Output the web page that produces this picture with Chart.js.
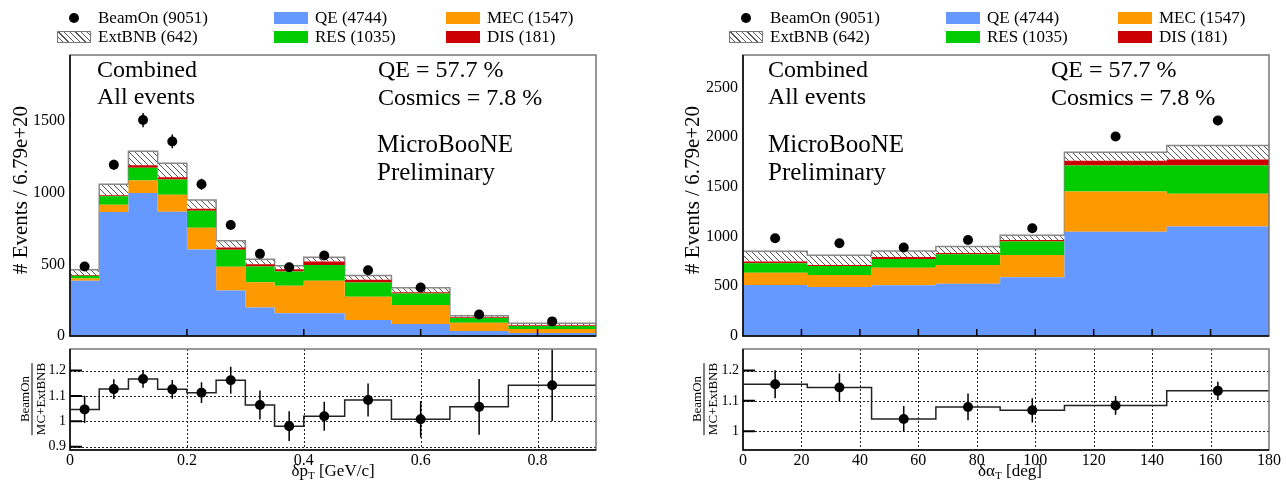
<!DOCTYPE html>
<html>
<head>
<meta charset="utf-8">
<script src="https://cdn.jsdelivr.net/npm/chart.js@4.4.1/dist/chart.umd.min.js"></script>
<style>
  html, body { margin: 0; padding: 0; background: #fff; }
  body { position: relative; width: 1286px; height: 485px; overflow: hidden;
         font-family: "Liberation Serif", "Times New Roman", serif; color: #000; }
  canvas { position: absolute; }
  .txt { position: absolute; white-space: nowrap; line-height: 1; }
  .leg { position: absolute; white-space: nowrap; font-size: 17px; line-height: 20px; }
  .dot { position: absolute; width: 10px; height: 10px; border-radius: 50%; background: #000; }
  .box { position: absolute; width: 34px; height: 12px; }
  .hatch { box-sizing: border-box; border: 1px solid #777;
           background: repeating-linear-gradient(45deg, #fff 0 3px, #555 3px 4px); }
  .ytitle { position: absolute; font-size: 21px; white-space: nowrap; line-height: 1;
            transform: translate(-50%, -50%) rotate(-90deg); }
  .frac { position: absolute; font-size: 13px; line-height: 1; text-align: center;
          transform: translate(-50%, -50%) rotate(-90deg); }
  .frac .num { border-bottom: 1px solid #000; padding: 0 1px 1px; }
  .frac .den { padding-top: 1px; }
  .xtitle { position: absolute; font-size: 17px; white-space: nowrap; line-height: 1;
            transform: translateX(-50%); }
  .xtitle sub { font-size: 11px; vertical-align: -3px; }
</style>
</head>
<body>
<canvas id="ptTop" width="616" height="321" style="left:0px;top:35px"></canvas>
<canvas id="ptRatio" width="616" height="150" style="left:0px;top:335px"></canvas>
<canvas id="atTop" width="616" height="321" style="left:673px;top:35px"></canvas>
<canvas id="atRatio" width="616" height="150" style="left:673px;top:335px"></canvas>

<script>
// ---------- data: delta pT ----------
const ptEdges = [0, 0.05, 0.1, 0.15, 0.2, 0.25, 0.3, 0.35, 0.4, 0.47, 0.55, 0.65, 0.75, 0.9];
const ptQE  = [385, 865, 998, 867, 604, 317, 198, 158, 158, 112, 84, 35, 21];
const ptMEC = [16, 51, 86, 119, 151, 166, 177, 192, 227, 161, 133, 58, 28];
const ptRES = [19, 58, 89, 105, 119, 118, 110, 100, 111, 100, 79, 33, 21];
const ptDIS = [5, 7, 18, 16, 14, 17, 16, 16, 24, 19, 9, 5, 5];
const ptExt = [37, 77, 98, 98, 61, 46, 35, 24, 30, 30, 31, 11, 14];
const ptData = [485, 1194, 1506, 1357, 1058, 774, 573, 480, 562, 459, 338, 150, 102];
const ptDataErr = [22, 35, 50, 48, 38, 30, 26, 24, 26, 23, 20, 13, 11];
const ptRatio = [1.047, 1.127, 1.167, 1.126, 1.113, 1.162, 1.064, 0.981, 1.020, 1.084, 1.008, 1.057, 1.142];
const ptRatioErr = [0.054, 0.039, 0.035, 0.037, 0.041, 0.053, 0.057, 0.059, 0.057, 0.065, 0.072, 0.110, 0.141];

// ---------- data: delta alphaT ----------
const atEdges = [0, 22, 44, 66, 88, 110, 145, 180];
const atQE  = [513, 493, 510, 526, 590, 1049, 1100];
const atMEC = [124, 121, 177, 188, 225, 403, 329];
const atRES = [94, 90, 88, 108, 134, 262, 285];
const atDIS = [17, 10, 20, 13, 17, 47, 60];
const atExt = [104, 98, 60, 64, 47, 87, 141];
const atData = [983, 932, 889, 966, 1083, 2005, 2166];
const atDataErr = [31, 31, 30, 31, 33, 45, 47];
const atRatio = [1.155, 1.144, 1.040, 1.080, 1.069, 1.085, 1.133];
const atRatioErr = [0.046, 0.046, 0.043, 0.044, 0.040, 0.031, 0.030];

// ---------- ticks ----------
const ptTopYTicks = [0, 500, 1000, 1500];
const atTopYTicks = [0, 500, 1000, 1500, 2000, 2500];
const ptXTicks = [0, 0.2, 0.4, 0.6, 0.8];
const atXTicks = [0, 20, 40, 60, 80, 100, 120, 140, 160, 180];
const ptRatioYTicks = [0.9, 1, 1.1, 1.2];
const atRatioYTicks = [1, 1.1, 1.2];

const legendLabels = ["BeamOn (9051)", "QE (4744)", "MEC (1547)", "ExtBNB (642)", "RES (1035)", "DIS (181)"];

const colors = { QE: "#6699ff", MEC: "#ff9900", RES: "#00cc00", DIS: "#cc0000" };
const FONT = "'Liberation Serif', 'Times New Roman', serif";

// ---------- helpers ----------
function histPoints(edges, vals) {
  const pts = [];
  vals.forEach((v, i) => { pts.push({ x: edges[i], y: v }, { x: edges[i + 1], y: v }); });
  return pts;
}
function cumulate(layers) {
  let run = layers[0].map(() => 0);
  return layers.map(l => (run = run.map((r, i) => r + l[i])));
}
function centers(edges) {
  return edges.slice(0, -1).map((e, i) => (e + edges[i + 1]) / 2);
}
function hatchPattern() {
  const c = document.createElement("canvas");
  c.width = c.height = 6;
  const g = c.getContext("2d");
  g.fillStyle = "#fff"; g.fillRect(0, 0, 6, 6);
  g.strokeStyle = "#555"; g.lineWidth = 1;
  g.beginPath();
  g.moveTo(0, 0); g.lineTo(6, 6);
  g.moveTo(-1, 5); g.lineTo(1, 7);
  g.moveTo(5, -1); g.lineTo(7, 1);
  g.stroke();
  return g.createPattern(c, "repeat");
}

// frame, inward ticks, dotted grid and error bars
const framePlugin = {
  id: "frame",
  beforeDatasetsDraw(chart, args, o) {
    if (!o.grid) return;
    const { ctx, chartArea: a, scales: { x, y } } = chart;
    ctx.save();
    ctx.strokeStyle = "#222"; ctx.lineWidth = 1; ctx.setLineDash([2, 2]);
    ctx.beginPath();
    x.ticks.forEach(t => {
      const p = Math.round(x.getPixelForValue(t.value)) + 0.5;
      if (p > a.left + 2 && p < a.right - 2) { ctx.moveTo(p, a.top); ctx.lineTo(p, a.bottom); }
    });
    y.ticks.forEach(t => {
      const p = Math.round(y.getPixelForValue(t.value)) + 0.5;
      if (p > a.top + 2 && p < a.bottom - 2) { ctx.moveTo(a.left, p); ctx.lineTo(a.right, p); }
    });
    ctx.stroke();
    ctx.restore();
  },
  afterDatasetsDraw(chart, args, o) {
    const { ctx, chartArea: a, scales: { x, y } } = chart;
    ctx.save();
    ctx.beginPath(); ctx.rect(a.left, a.top, a.right - a.left, a.bottom - a.top); ctx.clip();
    ctx.strokeStyle = "#000"; ctx.lineWidth = 1.5;
    chart.data.datasets.forEach(ds => {
      if (!ds.errorBars) return;
      ctx.beginPath();
      ds.data.forEach((pt, i) => {
        const px = x.getPixelForValue(pt.x);
        ctx.moveTo(px, y.getPixelForValue(pt.y - ds.errorBars[i]));
        ctx.lineTo(px, y.getPixelForValue(pt.y + ds.errorBars[i]));
      });
      ctx.stroke();
    });
    ctx.restore();

    ctx.save();
    ctx.lineWidth = 1.5; ctx.strokeStyle = "#777";
    ctx.strokeRect(a.left, a.top, a.right - a.left, a.bottom - a.top);
    ctx.strokeStyle = "#000";
    ctx.beginPath();
    ctx.moveTo(a.left, a.top); ctx.lineTo(a.left, a.bottom); ctx.lineTo(a.right, a.bottom);
    ctx.stroke();
    if (o.xTick) {
      ctx.beginPath();
      x.ticks.forEach(t => {
        const p = x.getPixelForValue(t.value);
        if (p > a.left + 2 && p < a.right - 2) { ctx.moveTo(p, a.bottom); ctx.lineTo(p, a.bottom - o.xTick); }
      });
      ctx.stroke();
    }
    if (o.yTick) {
      ctx.lineWidth = 2;
      ctx.beginPath();
      y.ticks.forEach(t => {
        const p = y.getPixelForValue(t.value);
        ctx.moveTo(a.left, p); ctx.lineTo(a.left + o.yTick, p);
      });
      ctx.stroke();
    }
    ctx.restore();
  }
};

function fmt(v) { return String(Math.round(v * 10) / 10); }

function makeTop(id, edges, layers, data, err, yMax, yTicks, xTicks) {
  const cum = cumulate(layers);
  const fills = [colors.QE, colors.MEC, colors.RES, colors.DIS, hatchPattern()];
  const datasets = cum.map((c, k) => ({
    data: histPoints(edges, c),
    fill: k === 0 ? "origin" : "-1",
    backgroundColor: fills[k],
    borderColor: k === 4 ? "#888" : "rgba(0,0,0,0)",
    borderWidth: k === 4 ? 1.5 : 0,
    pointRadius: 0,
    tension: 0
  }));
  datasets.push({
    data: centers(edges).map((c, i) => ({ x: c, y: data[i] })),
    showLine: false, fill: false, order: -1,
    pointRadius: 5, pointBackgroundColor: "#000", pointBorderColor: "#000", pointBorderWidth: 0,
    errorBars: err
  });
  return new Chart(document.getElementById(id), {
    type: "line",
    data: { datasets },
    plugins: [framePlugin],
    options: {
      responsive: false, animation: false, events: [], devicePixelRatio: 1,
      layout: { padding: { top: 20, right: 20, left: 0, bottom: 0 } },
      plugins: { legend: { display: false }, tooltip: { enabled: false }, frame: { xTick: 7 } },
      scales: {
        x: {
          type: "linear", min: edges[0], max: edges[edges.length - 1],
          grid: { display: false, drawTicks: false }, border: { display: false },
          ticks: { display: false },
          afterBuildTicks: s => { s.ticks = xTicks.map(v => ({ value: v })); },
          afterFit: s => { s.height = 20; }
        },
        y: {
          min: 0, max: yMax,
          grid: { display: false, drawTicks: false }, border: { display: false },
          ticks: { color: "#000", padding: 5, font: { family: FONT, size: 16 }, callback: v => String(v) },
          afterBuildTicks: s => { s.ticks = yTicks.map(v => ({ value: v })); },
          afterFit: s => { s.width = 70; }
        }
      }
    }
  });
}

function makeRatio(id, edges, ratio, err, yMin, yMax, yTicks, xTicks) {
  return new Chart(document.getElementById(id), {
    type: "line",
    data: {
      datasets: [
        { data: histPoints(edges, ratio), fill: false, borderColor: "#222", borderWidth: 1.5, pointRadius: 0, tension: 0 },
        {
          data: centers(edges).map((c, i) => ({ x: c, y: ratio[i] })),
          showLine: false, fill: false, order: -1,
          pointRadius: 5, pointBackgroundColor: "#000", pointBorderColor: "#000", pointBorderWidth: 0,
          errorBars: err
        }
      ]
    },
    plugins: [framePlugin],
    options: {
      responsive: false, animation: false, events: [], devicePixelRatio: 1,
      layout: { padding: { top: 14, right: 20, left: 0, bottom: 0 } },
      plugins: { legend: { display: false }, tooltip: { enabled: false }, frame: { grid: true, yTick: 12, xTick: 0 } },
      scales: {
        x: {
          type: "linear", min: edges[0], max: edges[edges.length - 1],
          grid: { display: false, drawTicks: false }, border: { display: false },
          ticks: { color: "#000", padding: 1, autoSkip: false, maxRotation: 0, font: { family: FONT, size: 16 }, callback: fmt },
          afterBuildTicks: s => { s.ticks = xTicks.map(v => ({ value: v })); },
          afterFit: s => { s.height = 35; }
        },
        y: {
          min: yMin, max: yMax,
          grid: { display: false, drawTicks: false }, border: { display: false },
          ticks: { color: "#000", padding: 4, font: { family: FONT, size: 14 }, callback: fmt },
          afterBuildTicks: s => { s.ticks = yTicks.map(v => ({ value: v })); },
          afterFit: s => { s.width = 70; }
        }
      }
    }
  });
}

makeTop("ptTop", ptEdges, [ptQE, ptMEC, ptRES, ptDIS, ptExt], ptData, ptDataErr, 1960, ptTopYTicks, ptXTicks);
makeRatio("ptRatio", ptEdges, ptRatio, ptRatioErr, 0.887, 1.285, ptRatioYTicks, ptXTicks);
makeTop("atTop", atEdges, [atQE, atMEC, atRES, atDIS, atExt], atData, atDataErr, 2825, atTopYTicks, atXTicks);
makeRatio("atRatio", atEdges, atRatio, atRatioErr, 0.938, 1.271, atRatioYTicks, atXTicks);

// ---------- text: legend, labels, titles ----------
function add(cls, left, top, html, style) {
  const d = document.createElement("div");
  d.className = cls;
  d.style.left = left + "px";
  d.style.top = top + "px";
  if (style) Object.assign(d.style, style);
  d.innerHTML = html;
  document.body.appendChild(d);
  return d;
}

const symLeft = [57, 274, 446];
const textLeft = [98, 315, 487];
const rowMid = [18, 37];
const symFill = ["dot", colors.QE, colors.MEC, "hatch", colors.RES, colors.DIS];

[0, 672].forEach((dx, panel) => {
  legendLabels.forEach((lab, i) => {
    const col = i % 3, row = Math.floor(i / 3);
    const f = symFill[i];
    if (f === "dot") add("dot", dx + symLeft[col] + 12, rowMid[row] - 5, "");
    else if (f === "hatch") add("box hatch", dx + symLeft[col], rowMid[row] - 6, "");
    else add("box", dx + symLeft[col], rowMid[row] - 6, "", { background: f });
    add("leg", dx + textLeft[col], rowMid[row] - 10, lab);
  });

  const leftX = panel === 0 ? 97 : 768;
  const qeX = panel === 0 ? 378 : 1051;
  const mbX = panel === 0 ? 377 : 768;
  add("txt", leftX, 57, "Combined", { fontSize: "24px" });
  add("txt", leftX, 84, "All events", { fontSize: "24px" });
  add("txt", qeX, 57, "QE = 57.7 %", { fontSize: "24px" });
  add("txt", qeX, 85, "Cosmics = 7.8 %", { fontSize: "24px" });
  add("txt", mbX, 131, "MicroBooNE", { fontSize: "25px" });
  add("txt", mbX, 159, "Preliminary", { fontSize: "25px" });

  add("ytitle", dx + 20, 190, "# Events / 6.79e+20");
  add("frac", dx + 32, 399, '<div class="num">BeamOn</div><div class="den">MC+ExtBNB</div>');
});

add("xtitle", 333, 462, "&delta;p<sub>T</sub> [GeV/c]");
add("xtitle", 1010, 462, "&delta;&alpha;<sub>T</sub> [deg]");
</script>
</body>
</html>
